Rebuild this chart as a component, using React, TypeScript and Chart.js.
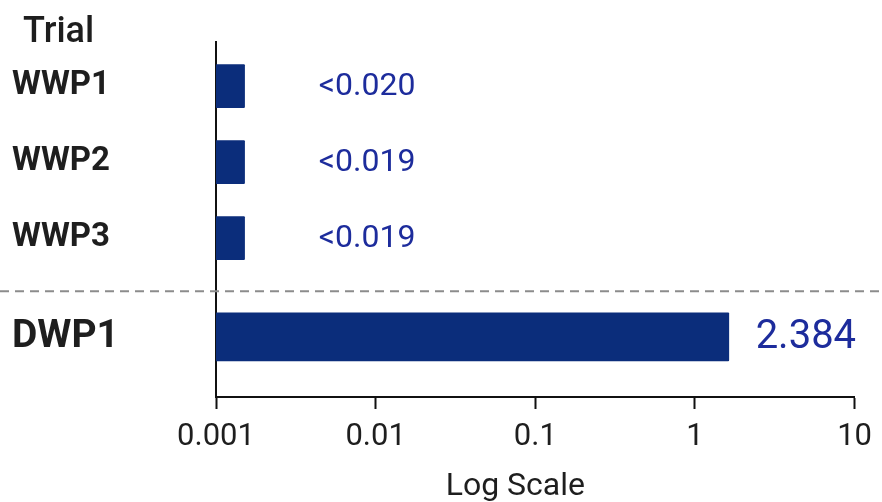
import React, { useEffect, useRef } from "react";
import { Chart, registerables } from "chart.js";

Chart.register(...registerables);

const categories = ["WWP1", "WWP2", "WWP3", "DWP1"];
const rowPositions = [0, 1, 2, 3.3];
const barValues = [0.00151, 0.00151, 0.00151, 1.63];
const valueLabels = ["<0.020", "<0.019", "<0.019", "2.384"];
const valueLabelAnchors = [0.0044, 0.0044, 0.0044, 2.4];
const xTickValues = [0.001, 0.01, 0.1, 1, 10];
const xTickLabels = ["0.001", "0.01", "0.1", "1", "10"];
const separatorPosition = 2.7;
const yAxisTitle = "Trial";
const xAxisTitle = "Log Scale";
const xTitleAnchor = 0.075;

const BAR = "#0b2d7b";
const LABEL_BLUE = "#1d2c9c";
const TEXT = "#1e1e1e";

export default function App() {
  const ref = useRef<HTMLCanvasElement | null>(null);

  useEffect(() => {
    document.body.style.margin = "0";
    const canvas = ref.current;
    if (!canvas) return;

    const overlay = {
      id: "overlay",
      beforeDatasetsDraw(chart: any) {
        const { ctx } = chart;
        const y = chart.scales.y.getPixelForValue(separatorPosition);
        ctx.save();
        ctx.strokeStyle = "#8c8c8c";
        ctx.lineWidth = 2;
        ctx.setLineDash([9, 6]);
        ctx.beginPath();
        ctx.moveTo(0, y);
        ctx.lineTo(chart.width, y);
        ctx.stroke();
        ctx.restore();
      },
      afterDraw(chart: any) {
        const { ctx } = chart;
        const xs = chart.scales.x;
        const ys = chart.scales.y;
        ctx.save();
        ctx.textBaseline = "middle";
        ctx.textAlign = "left";
        ctx.fillStyle = LABEL_BLUE;
        valueLabels.forEach((t, i) => {
          const big = i === valueLabels.length - 1;
          ctx.font = big ? "40px Roboto" : "32px Roboto";
          ctx.fillText(t, xs.getPixelForValue(valueLabelAnchors[i]), ys.getPixelForValue(rowPositions[i]) + 1);
        });
        ctx.fillStyle = TEXT;
        ctx.font = "500 36px Roboto";
        ctx.textBaseline = "alphabetic";
        ctx.fillText(yAxisTitle, 23, 42);
        ctx.font = "32px Roboto";
        ctx.textAlign = "center";
        ctx.fillText(xAxisTitle, xs.getPixelForValue(xTitleAnchor), 495);
        ctx.restore();
      },
    };

    const chart = new Chart(canvas, {
      type: "bar",
      data: {
        datasets: [
          {
            data: barValues.slice(0, 3).map((v, i) => ({ x: v, y: rowPositions[i] })),
            backgroundColor: BAR,
            barThickness: 43,
            borderRadius: 1,
            borderSkipped: "start",
          },
          {
            data: [{ x: barValues[3], y: rowPositions[3] }],
            backgroundColor: BAR,
            barThickness: 48,
            borderRadius: 1,
            borderSkipped: "start",
          },
        ],
      },
      options: {
        indexAxis: "y",
        animation: false,
        responsive: false,
        maintainAspectRatio: false,
        grouped: false,
        layout: { padding: { left: 12, right: 25, top: 42, bottom: 0 } },
        plugins: { legend: { display: false }, tooltip: { enabled: false } },
        scales: {
          x: {
            type: "logarithmic",
            min: 0.001,
            max: 10,
            offset: false,
            afterBuildTicks: (s: any) => {
              s.ticks = xTickValues.map((v) => ({ value: v, major: true }));
            },
            afterFit: (s: any) => {
              s.height = 105;
            },
            ticks: {
              autoSkip: false,
              maxRotation: 0,
              padding: 10,
              color: TEXT,
              font: { family: "Roboto", size: 31 },
              callback: (_v: any, i: number) => xTickLabels[i],
            },
            grid: {
              drawOnChartArea: false,
              drawTicks: true,
              tickLength: 12,
              tickWidth: 2,
              tickColor: "#111",
            },
            border: { display: true, color: "#111", width: 2 },
          },
          y: {
            type: "linear",
            reverse: true,
            offset: false,
            min: -0.58,
            max: 4.09,
            afterBuildTicks: (s: any) => {
              s.ticks = rowPositions.map((v) => ({ value: v }));
            },
            afterFit: (s: any) => {
              s.width = 204;
            },
            ticks: {
              autoSkip: false,
              crossAlign: "far",
              color: TEXT,
              font: (c: any) =>
                c.index === 3
                  ? { family: "Roboto", size: 39, weight: "bold" }
                  : { family: "Roboto", size: 33, weight: "bold" },
              callback: (_v: any, i: number) => categories[i],
            },
            grid: { drawOnChartArea: false, drawTicks: false },
            border: { display: true, color: "#111", width: 2 },
          },
        },
      },
      plugins: [overlay],
    } as any);

    return () => chart.destroy();
  }, []);

  return (
    <div style={{ position: "absolute", left: 0, top: 0, width: 882, height: 502, background: "#fff" }}>
      <canvas ref={ref} width={882} height={502} style={{ width: 882, height: 502 }} />
    </div>
  );
}
